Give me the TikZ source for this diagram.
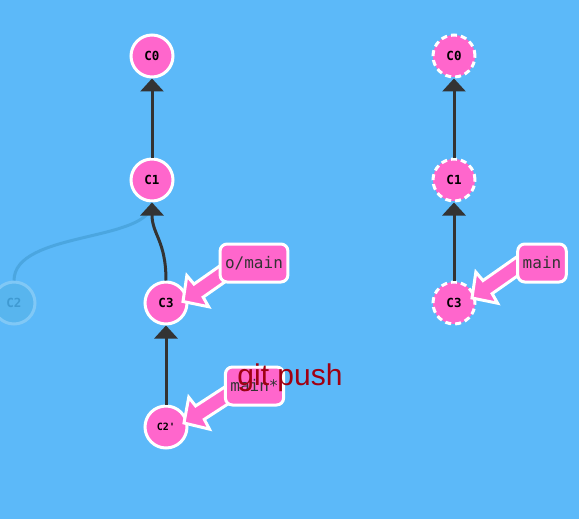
\documentclass[tikz,border=0pt]{standalone}
\usepackage{fontspec}
\setmainfont{Liberation Sans}
\setmonofont{DejaVu Sans Mono}
\usetikzlibrary{arrows.meta,calc}
\definecolor{bg}{HTML}{5CB9F9}
\definecolor{cpink}{HTML}{FF66CC}
\definecolor{edgec}{HTML}{333333}
\definecolor{ghostfill}{HTML}{58B5EE}
\definecolor{ghostdraw}{HTML}{80C8F6}
\definecolor{ghosttext}{HTML}{3F9AD2}
\definecolor{ghostline}{HTML}{4BA6E0}
\definecolor{pushred}{HTML}{A00012}
\tikzset{
  commit/.style={circle, fill=cpink, draw=white, line width=3pt, minimum size=42pt, inner sep=0pt,
    text=black, font=\ttfamily\bfseries\fontsize{12.5}{12.5}\selectfont},
  dashedcommit/.style={commit, dash pattern=on 6pt off 4pt},
  ghostcommit/.style={circle, fill=ghostfill, draw=ghostdraw, line width=3pt, minimum size=42pt, inner sep=0pt,
    text=ghosttext, font=\ttfamily\bfseries\fontsize{12.5}{12.5}\selectfont},
  parent/.style={draw=edgec, line width=3pt, -{Triangle[width=23pt,length=13pt]}},
  ghostedge/.style={draw=ghostline, line width=3pt},
  branch/.style={rectangle, rounded corners=7pt, fill=cpink, draw=white, line width=3pt,
    text=edgec, font=\ttfamily\fontsize{16}{16}\selectfont, minimum height=38pt, inner xsep=5pt},
  pics/branchptr/.style={code={
    \filldraw[fill=cpink, draw=white, line width=3pt, line join=miter]
      (0,0) -- (18,19) -- (19,8) -- (#1,8) -- (#1,-8) -- (19,-8) -- (18,-19) -- cycle;}},
  pushtext/.style={text=pushred, font=\fontsize{30}{30}\selectfont, inner sep=0pt}
}
\begin{document}
\begin{tikzpicture}[x=1pt,y=-1pt]
\useasboundingbox (0,0) rectangle (579,519);
\fill[bg] (0,0) rectangle (579,519);

% left tree
\node[commit] (c0) at (152,56) {C0};
\node[commit] (c1) at (152,180) {C1};
\node[ghostcommit] (c2) at (14,303) {C2};
\node[commit] (c3) at (166,303) {C3};
\node[commit, font=\ttfamily\bfseries\fontsize{10}{10}\selectfont] (c2p) at (166,427) {C2'};

\draw[ghostedge] (c2.north) .. controls +(0,-50) and +(0,40) .. (c1.south);
\draw[parent] (c1.north) -- (c0.south);
\draw[parent] (c3.north) .. controls +(0,-40) and +(0,32) .. (c1.south);
\draw[parent] (c2p.north) -- (c3.south);

% right tree
\node[dashedcommit] (r0) at (454,56) {C0};
\node[dashedcommit] (r1) at (454,180) {C1};
\node[dashedcommit] (r3) at (454,303) {C3};
\draw[parent] (r1.north) -- (r0.south);
\draw[parent] (r3.north) -- (r1.south);

% branch pointers
\pic[rotate=35] at ($(c3.center)+(17,-1.5)$) {branchptr=62};
\pic[rotate=33] at ($(c2p.center)+(18,-4)$) {branchptr=64};
\pic[rotate=35] at ($(r3.center)+(18,-5)$) {branchptr=60};

\node[branch] (omain) at (254,263) {o/main};
\node[branch] (mainstar) at (254.5,386) {main*};
\node[branch] (rmain) at (542,263) {main};

\node[pushtext, anchor=base] (push) at (290,385) {git push};
\end{tikzpicture}
\end{document}
